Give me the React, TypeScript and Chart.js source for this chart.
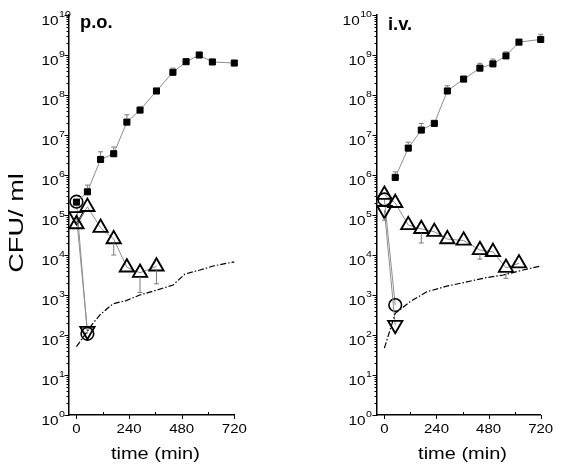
import React, { useEffect, useRef } from "react";
import { Chart, registerables } from "chart.js";

Chart.register(...registerables);

// ---------- shared axis content ----------
const X_MAJOR = [0, 240, 480, 720];
const X_MINOR = [120, 360, 600];
const Y_EXPONENTS = [0, 1, 2, 3, 4, 5, 6, 7, 8, 9, 10];
const Y_TITLE = "CFU/ ml";
const X_TITLE = "time (min)";

// ---------- p.o. panel ----------
const PO_SQ_T = [0, 50, 110, 170, 230, 290, 365, 440, 500, 560, 620, 720];
const PO_SQ = [2.1e5, 3.8e5, 2.45e6, 3.4e6, 2.1e7, 4.2e7, 1.26e8, 3.7e8, 6.8e8, 1.0e9, 6.7e8, 6.3e8];
const PO_SQ_ERR = [null, 5.6e5, 3.8e6, 5.0e6, 3.2e7, 5.2e7, null, 4.7e8, null, null, null, null];

const PO_TRI_T = [0, 50, 110, 170, 230, 290, 365];
const PO_TRI = [5.9e4, 1.6e5, 4.8e4, 2.5e4, 4.9e3, 3.6e3, 5.2e3];
const PO_TRI_ERR = [null, null, null, 1.0e4, null, 1.15e3, 1.9e3];

const PO_CIR_T = [0, 50];
const PO_CIR = [2.15e5, 107];

const PO_DTRI_T = [0, 50];
const PO_DTRI = [9.3e4, 126];

const PO_CONC_T = [0, 75, 111, 167, 227, 289, 365, 441, 495, 563, 624, 720];
const PO_CONC = [51, 195, 335, 603, 724, 1000, 1320, 1780, 3350, 4220, 5310, 6760];

// ---------- i.v. panel ----------
const IV_SQ_T = [50, 110, 170, 230, 290, 365, 440, 500, 560, 620, 720];
const IV_SQ = [8.7e5, 4.7e6, 1.33e7, 1.95e7, 1.26e8, 2.5e8, 4.7e8, 6.0e8, 9.5e8, 2.1e9, 2.45e9];
const IV_SQ_ERR = [1.2e6, 6.6e6, 1.95e7, null, 1.7e8, 3.0e8, 6.2e8, 7.9e8, 1.2e9, 2.45e9, 3.3e9];

const IV_TRI_T = [0, 50, 110, 170, 230, 290, 365, 440, 500, 560, 620];
const IV_TRI = [3.2e5, 2.0e5, 5.6e4, 4.5e4, 3.8e4, 2.5e4, 2.3e4, 1.33e4, 1.2e4, 4.8e3, 6.2e3];
const IV_TRI_ERR = [null, null, null, 2.0e4, null, null, null, 7.9e3, null, 2.6e3, null];

const IV_CIR_T = [0, 50];
const IV_CIR = [2.45e5, 560];

const IV_DTRI_T = [0, 50];
const IV_DTRI = [1.33e5, 178];
const IV_DTRI_ERR = [7.4e4, null];

const IV_CONC_T = [0, 50, 118, 195, 287, 364, 456, 548, 640, 720];
const IV_CONC = [47, 347, 676, 1200, 1660, 2040, 2630, 3160, 4220, 5310];

// ---------- styling ----------
const FONT = "'Liberation Sans', Arial, Helvetica, sans-serif";
const GRAY_LINE = "#8e8e8e";
const ERR_COLOR = "#7a7a7a";

const zip = (t: number[], v: number[]) => t.map((x, i) => ({ x, y: v[i] }));

function stretchText(
  ctx: CanvasRenderingContext2D,
  text: string,
  x: number,
  y: number,
  font: string,
  sx: number,
  align: "left" | "center" | "right"
) {
  ctx.save();
  ctx.font = font;
  ctx.textAlign = "left";
  ctx.textBaseline = "alphabetic";
  const w = ctx.measureText(text).width * sx;
  const x0 = align === "center" ? x - w / 2 : align === "right" ? x - w : x;
  ctx.translate(x0, y);
  ctx.scale(sx, 1);
  ctx.fillText(text, 0, 0);
  ctx.restore();
  return w;
}

function textWidth(ctx: CanvasRenderingContext2D, text: string, font: string, sx: number) {
  ctx.save();
  ctx.font = font;
  const w = ctx.measureText(text).width * sx;
  ctx.restore();
  return w;
}

const errorBarPlugin = {
  id: "errbars",
  afterDatasetsDraw(chart: any) {
    const ctx = chart.ctx as CanvasRenderingContext2D;
    const ys = chart.scales.y;
    chart.data.datasets.forEach((ds: any, i: number) => {
      if (!ds.errors) return;
      const meta = chart.getDatasetMeta(i);
      ctx.save();
      ctx.strokeStyle = ERR_COLOR;
      ctx.lineWidth = 1;
      meta.data.forEach((pt: any, j: number) => {
        const e = ds.errors[j];
        if (e == null) return;
        const ye = ys.getPixelForValue(e);
        const dir = ye < pt.y ? -1 : 1;
        const y0 = pt.y + dir * (ds.errStart || 0);
        if ((ye - y0) * dir <= 0) return;
        ctx.beginPath();
        ctx.moveTo(pt.x, y0);
        ctx.lineTo(pt.x, ye);
        ctx.moveTo(pt.x - 2.5, ye);
        ctx.lineTo(pt.x + 2.5, ye);
        ctx.stroke();
      });
      ctx.restore();
    });
  },
};

const decorPlugin = {
  id: "decor",
  afterDraw(chart: any, _args: any, opts: any) {
    const ctx = chart.ctx as CanvasRenderingContext2D;
    const xs = chart.scales.x;
    const ys = chart.scales.y;
    const area = chart.chartArea;
    ctx.save();
    ctx.strokeStyle = "#000";
    ctx.fillStyle = "#000";
    ctx.lineWidth = 1;
    // y ticks
    ctx.beginPath();
    Y_EXPONENTS.forEach((e) => {
      const y = Math.round(ys.getPixelForValue(Math.pow(10, e))) + 0.5;
      ctx.moveTo(area.left - 4.5, y);
      ctx.lineTo(area.left, y);
      if (e < 10) {
        for (let m = 2; m <= 9; m++) {
          const ym = Math.round(ys.getPixelForValue(m * Math.pow(10, e))) + 0.5;
          ctx.moveTo(area.left - 2.5, ym);
          ctx.lineTo(area.left, ym);
        }
      }
    });
    // x ticks
    X_MAJOR.forEach((v) => {
      const x = Math.round(xs.getPixelForValue(v)) + 0.5;
      ctx.moveTo(x, area.bottom);
      ctx.lineTo(x, area.bottom + 4);
    });
    X_MINOR.forEach((v) => {
      const x = Math.round(xs.getPixelForValue(v)) + 0.5;
      ctx.moveTo(x, area.bottom - 3);
      ctx.lineTo(x, area.bottom);
    });
    ctx.stroke();

    // y tick labels 10^n
    const baseFont = `12px ${FONT}`;
    const expFont = `8.5px ${FONT}`;
    Y_EXPONENTS.forEach((e) => {
      const y = ys.getPixelForValue(Math.pow(10, e));
      const wBase = textWidth(ctx, "10", baseFont, 1.28);
      const wExp = textWidth(ctx, String(e), expFont, 1.25);
      let x0: number;
      if (opts.yAlign === "left") x0 = opts.yLabelX;
      else x0 = area.left - opts.yGap - (wBase + 0.5 + wExp);
      stretchText(ctx, "10", x0, y + 9.5, baseFont, 1.28, "left");
      stretchText(ctx, String(e), x0 + wBase + 0.5, y + 2, expFont, 1.25, "left");
    });

    // x tick labels
    X_MAJOR.forEach((v) => {
      stretchText(ctx, String(v), xs.getPixelForValue(v), area.bottom + 18, `12.5px ${FONT}`, 1.2, "center");
    });

    // x title
    stretchText(ctx, X_TITLE, xs.getPixelForValue(360), area.bottom + 43.5, `16px ${FONT}`, 1.25, "center");

    // panel label
    stretchText(ctx, opts.panel, opts.panelX, opts.panelY, `bold 18px ${FONT}`, 1.02, "left");

    // y title
    if (opts.showYTitle) {
      ctx.save();
      ctx.translate(22.5, ys.getPixelForValue(Math.pow(10, 4.8)));
      ctx.rotate(-Math.PI / 2);
      stretchText(ctx, Y_TITLE, 0, 0, `20px ${FONT}`, 1.36, "center");
      ctx.restore();
    }
    ctx.restore();
  },
};

type PanelSpec = {
  sqT: number[]; sq: number[]; sqErr: (number | null)[];
  triT: number[]; tri: number[]; triErr: (number | null)[];
  cirT: number[]; cir: number[];
  dtriT: number[]; dtri: number[]; dtriErr: (number | null)[] | null;
  concT: number[]; conc: number[];
};

function buildConfig(spec: PanelSpec, padding: any, decor: any): any {
  const common = { clip: false as const, tension: 0 };
  return {
    type: "line",
    data: {
      datasets: [
        {
          ...common,
          data: zip(spec.concT, spec.conc),
          borderColor: "#000",
          borderWidth: 1.2,
          borderDash: [6, 2, 1.5, 2],
          pointRadius: 0,
          fill: false,
        },
        {
          ...common,
          data: zip(spec.sqT, spec.sq),
          borderColor: GRAY_LINE,
          borderWidth: 1,
          pointStyle: "rect",
          pointRadius: 4.3,
          pointBackgroundColor: "#000",
          pointBorderColor: "#000",
          pointBorderWidth: 1,
          errors: spec.sqErr,
          errStart: 3.5,
        },
        {
          ...common,
          data: zip(spec.triT, spec.tri),
          borderColor: GRAY_LINE,
          borderWidth: 1,
          pointStyle: "triangle",
          pointRadius: 8.2,
          pointBackgroundColor: "rgba(0,0,0,0)",
          pointBorderColor: "#000",
          pointBorderWidth: 1.9,
          errors: spec.triErr,
          errStart: 4,
        },
        {
          ...common,
          data: zip(spec.dtriT, spec.dtri),
          borderColor: GRAY_LINE,
          borderWidth: 1,
          pointStyle: "triangle",
          pointRotation: 180,
          pointRadius: 8.2,
          pointBackgroundColor: "rgba(0,0,0,0)",
          pointBorderColor: "#000",
          pointBorderWidth: 1.9,
          errors: spec.dtriErr,
          errStart: 8,
        },
        {
          ...common,
          data: zip(spec.cirT, spec.cir),
          borderColor: GRAY_LINE,
          borderWidth: 1,
          pointStyle: "circle",
          pointRadius: 6.3,
          pointBackgroundColor: "rgba(0,0,0,0)",
          pointBorderColor: "#000",
          pointBorderWidth: 1.6,
        },
      ],
    },
    options: {
      animation: false,
      responsive: false,
      maintainAspectRatio: false,
      devicePixelRatio: 1,
      events: [],
      layout: { padding },
      plugins: {
        legend: { display: false },
        tooltip: { enabled: false },
        decor,
      },
      scales: {
        x: {
          type: "linear",
          min: -34,
          max: 720,
          ticks: { display: false },
          grid: { display: false },
          border: { display: true, color: "#000", width: 1.5 },
          afterFit: (s: any) => { s.height = 0; },
        },
        y: {
          type: "logarithmic",
          min: 1,
          max: 1e10,
          ticks: { display: false },
          grid: { display: false },
          border: { display: true, color: "#000", width: 1.5 },
          afterFit: (s: any) => { s.width = 0; },
        },
      },
    },
    plugins: [errorBarPlugin, decorPlugin],
  };
}

function Panel({ left, width, config }: { left: number; width: number; config: () => any }) {
  const ref = useRef<HTMLCanvasElement | null>(null);
  useEffect(() => {
    if (!ref.current) return;
    const chart = new Chart(ref.current, config());
    return () => chart.destroy();
  }, []);
  return (
    <canvas
      ref={ref}
      width={width}
      height={470}
      style={{ position: "absolute", left, top: 0, width, height: 470 }}
    />
  );
}

const poSpec: PanelSpec = {
  sqT: PO_SQ_T, sq: PO_SQ, sqErr: PO_SQ_ERR,
  triT: PO_TRI_T, tri: PO_TRI, triErr: PO_TRI_ERR,
  cirT: PO_CIR_T, cir: PO_CIR,
  dtriT: PO_DTRI_T, dtri: PO_DTRI, dtriErr: null,
  concT: PO_CONC_T, conc: PO_CONC,
};

const ivSpec: PanelSpec = {
  sqT: IV_SQ_T, sq: IV_SQ, sqErr: IV_SQ_ERR,
  triT: IV_TRI_T, tri: IV_TRI, triErr: IV_TRI_ERR,
  cirT: IV_CIR_T, cir: IV_CIR,
  dtriT: IV_DTRI_T, dtri: IV_DTRI, dtriErr: IV_DTRI_ERR,
  concT: IV_CONC_T, conc: IV_CONC,
};

export default function App() {
  return (
    <div style={{ position: "absolute", left: 0, top: 0, width: 562, height: 470, background: "#fff", overflow: "hidden" }}>
      <Panel
        left={0}
        width={290}
        config={() =>
          buildConfig(
            poSpec,
            { left: 69, right: 55.7, top: 15, bottom: 55 },
            { panel: "p.o.", panelX: 80, panelY: 28, yAlign: "left", yLabelX: 41.5, yGap: 10, showYTitle: true }
          )
        }
      />
      <Panel
        left={290}
        width={272}
        config={() =>
          buildConfig(
            ivSpec,
            { left: 87, right: 21.3, top: 15, bottom: 55 },
            { panel: "i.v.", panelX: 98, panelY: 30, yAlign: "right", yLabelX: 0, yGap: 5, showYTitle: false }
          )
        }
      />
    </div>
  );
}
